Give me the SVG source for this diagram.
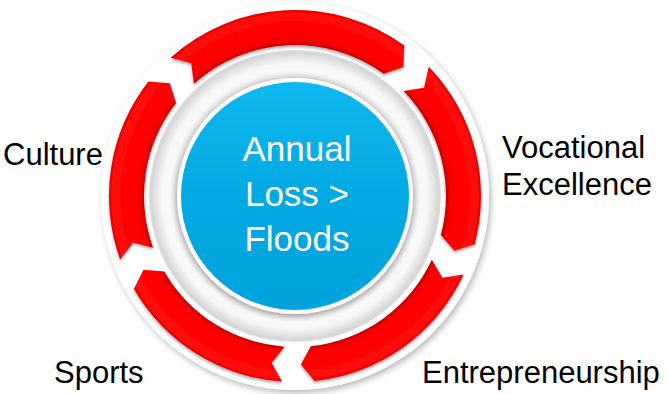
<svg xmlns="http://www.w3.org/2000/svg" width="668" height="394" viewBox="0 0 668 394">
  <defs>
    <style>
      .label { font-family: "Liberation Sans", Arial, sans-serif; font-size: 31px; fill: #000; }
      .hub-text { font-family: "Liberation Sans", Arial, sans-serif; font-size: 35px; fill: #fff; text-anchor: middle; }
      .seg { fill: url(#redBand); }
    </style>
    <filter id="discShadow" x="-20%" y="-20%" width="140%" height="140%">
      <feDropShadow dx="2" dy="3" stdDeviation="3" flood-color="#000" flood-opacity="0.28"/>
    </filter>
    <filter id="segShadow" x="-20%" y="-20%" width="140%" height="140%">
      <feDropShadow dx="0" dy="2" stdDeviation="1.5" flood-color="#000" flood-opacity="0.35"/>
    </filter>
    <filter id="hubShadow" x="-20%" y="-20%" width="140%" height="140%">
      <feDropShadow dx="0" dy="2" stdDeviation="3" flood-color="#000" flood-opacity="0.3"/>
    </filter>
    <radialGradient id="redBand" gradientUnits="userSpaceOnUse" cx="295" cy="196" r="186">
      <stop offset="0.81" stop-color="#bc0000"/>
      <stop offset="0.83" stop-color="#f00000"/>
      <stop offset="0.86" stop-color="#ff0000"/>
      <stop offset="0.98" stop-color="#ff0a0a"/>
      <stop offset="1" stop-color="#e40000"/>
    </radialGradient>
    <radialGradient id="innerRing" gradientUnits="userSpaceOnUse" cx="295" cy="196" r="146">
      <stop offset="0" stop-color="#ffffff"/>
      <stop offset="0.80" stop-color="#d8d8d8"/>
      <stop offset="0.86" stop-color="#f9f9f9"/>
      <stop offset="0.91" stop-color="#f7f7f7"/>
      <stop offset="0.985" stop-color="#d6d6d6"/>
      <stop offset="1" stop-color="#e0e0e0"/>
    </radialGradient>
    <linearGradient id="hubFill" x1="0" y1="0" x2="0" y2="1">
      <stop offset="0" stop-color="#0fb8ef"/>
      <stop offset="0.5" stop-color="#03a9e2"/>
      <stop offset="1" stop-color="#00a3dc"/>
    </linearGradient>
  </defs>

  <rect width="668" height="394" fill="#ffffff"/>

  <!-- base plate and inner bevel -->
  <g id="plate">
    <circle cx="295" cy="196" r="194" fill="#ffffff" filter="url(#discShadow)"/>
    <circle cx="295" cy="196" r="146" fill="url(#innerRing)"/>
  </g>

  <!-- cycle arrows, running clockwise -->
  <g id="connectors" filter="url(#segShadow)">
    <path id="arrow-1" class="seg" d="M428.80,66.79 A186,186 0 0 1 474.66,244.14 L454.32,250.86 L440.86,235.08 A151,151 0 0 0 403.62,91.11 L424.08,87.69 Z"/>
    <path id="arrow-2" class="seg" d="M463.57,274.61 A186,186 0 0 1 314.44,380.98 L300.88,364.40 L310.78,346.17 A151,151 0 0 0 431.85,259.82 L442.37,277.69 Z"/>
    <path id="arrow-3" class="seg" d="M282.02,381.55 A186,186 0 0 1 133.92,289.00 L143.55,269.86 L164.23,271.50 A151,151 0 0 0 284.47,346.63 L271.55,362.86 Z"/>
    <path id="arrow-4" class="seg" d="M120.22,259.62 A186,186 0 0 1 148.43,81.49 L169.78,83.25 L176.01,103.04 A151,151 0 0 0 153.11,247.65 L133.03,242.45 Z"/>
    <path id="arrow-5" class="seg" d="M170.54,57.78 A186,186 0 0 1 404.33,45.52 L403.31,66.92 L383.76,73.84 A151,151 0 0 0 193.96,83.79 L191.26,63.22 Z"/>
  </g>

  <!-- central hub -->
  <g id="hub">
    <circle cx="295" cy="196" r="118" fill="#ffffff" filter="url(#hubShadow)"/>
    <circle cx="295" cy="196" r="114" fill="url(#hubFill)"/>
    <text class="hub-text" x="297" y="161">Annual</text>
    <text class="hub-text" x="297" y="206">Loss &gt;</text>
    <text class="hub-text" x="297" y="251">Floods</text>
  </g>

  <g id="culture">
    <text class="label" x="3" y="165">Culture</text>
  </g>
  <g id="vocational-excellence">
    <text class="label" x="502" y="158">Vocational</text>
    <text class="label" x="502" y="195">Excellence</text>
  </g>
  <g id="entrepreneurship">
    <text class="label" x="422" y="383">Entrepreneurship</text>
  </g>
  <g id="sports">
    <text class="label" x="54" y="383">Sports</text>
  </g>
</svg>
